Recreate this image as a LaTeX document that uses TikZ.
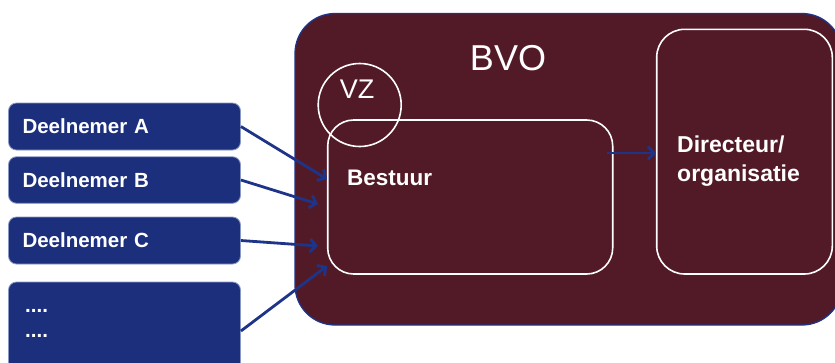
\documentclass[tikz,border=0pt]{standalone}
\usepackage{fontspec}
\setmainfont{Liberation Sans}
\usetikzlibrary{arrows.meta,calc}
\definecolor{dblue}{HTML}{1C2F7C}
\definecolor{bvored}{HTML}{521A27}
\definecolor{arrowblue}{HTML}{1E3488}
\definecolor{edgeblue}{HTML}{8A98C6}
\begin{document}
\begin{tikzpicture}[x=1pt,y=-1pt,
  pbox/.style={fill=dblue,draw=edgeblue,line width=0.8pt,rounded corners=8pt,
    minimum width=232pt,text width=204pt,inner xsep=14pt,align=left,
    text=white,font=\fontsize{20.5}{25}\selectfont\bfseries},
  whitebox/.style={draw=white,line width=1.6pt,rounded corners=26pt},
  conn/.style={draw=arrowblue,line width=2.8pt,-{Straight Barb[length=6pt,width=13pt]}},
  wtext/.style={text=white,inner sep=0pt}]
\useasboundingbox (0,0) rectangle (835,362);
% BVO box
\node[fill=bvored,draw=arrowblue,line width=1.3pt,rounded corners=40pt,
  minimum width=547pt,minimum height=311.5pt] (bvo) at (568.5,169.25) {};
\node[wtext,anchor=base,font=\fontsize{36}{40}\selectfont] (bvolabel) at (508,70) {BVO};
% Bestuur
\node[whitebox,minimum width=285pt,minimum height=154pt] (bestuur) at (470.2,197) {};
\node[wtext,anchor=base west,font=\fontsize{22.5}{27}\selectfont\bfseries] (bestuurlabel) at (347,185) {Bestuur};
% VZ
\node[circle,draw=white,line width=1.6pt,minimum size=83pt] (vz) at (359.7,105) {};
\node[wtext,anchor=base,font=\fontsize{27}{30}\selectfont] (vzlabel) at (357,98.3) {VZ};
% Directeur
\node[whitebox,rounded corners=28pt,minimum width=175.6pt,minimum height=244.7pt] (dir) at (744.5,151.65) {};
\node[wtext,anchor=base west,align=left,font=\fontsize{23}{29.5}\selectfont\bfseries] (dirlabel) at (677,181.8) {Directeur/\\organisatie};
% Deelnemers
\node[pbox,minimum height=47pt] (A) at (124.5,126.5) {Deelnemer A};
\node[pbox,minimum height=46.5pt] (B) at (124.5,180) {Deelnemer B};
\node[pbox,minimum height=47pt] (C) at (124.5,240.5) {Deelnemer C};
\node[pbox,minimum height=98pt] (D) at (124.5,331) {};
\node[wtext,anchor=base west,align=left,font=\fontsize{20.5}{25}\selectfont\bfseries] (dots) at (25,337) {....\\....};
% connectors
\coordinate (ea) at (327,179);
\coordinate (eb) at (318,204);
\coordinate (ec) at (318,246);
\coordinate (ed) at (327,266);
\coordinate (bs) at (607,153);
\draw[conn] (A.east) -- (ea);
\draw[conn] (B.east) -- (eb);
\draw[conn] (C.east) -- (ec);
\draw[conn] (D.east) -- (ed);
\draw[conn] (bs) -- (bs -| dir.west);
\end{tikzpicture}
\end{document}
